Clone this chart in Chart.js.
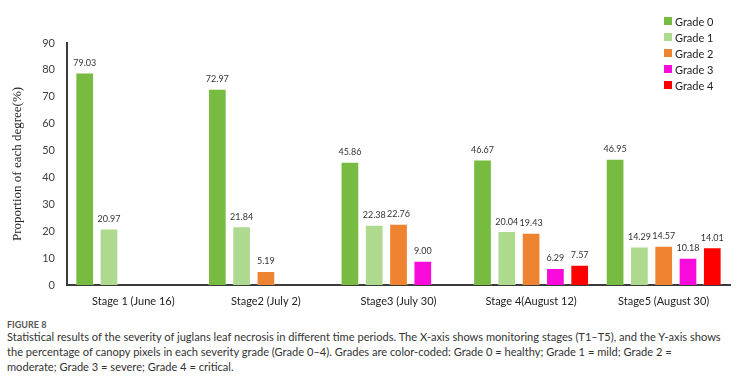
<!DOCTYPE html>
<html>
<head>
<meta charset="utf-8">
<script src="https://cdn.jsdelivr.net/npm/chart.js@4/dist/chart.umd.min.js"></script>
<style>
  html, body { margin: 0; padding: 0; background: #fff; }
  body { width: 744px; height: 381px; position: relative; overflow: hidden; font-family: Lato, "Open Sans", sans-serif; }
  #wrap { position: absolute; left: 0; top: 0; width: 744px; height: 312px; }
  #legend { position: absolute; left: 664px; top: 13px; }
  .li { height: 16px; display: flex; align-items: center; font-size: 11px; color: #222; }
  .sw { width: 8px; height: 8px; margin-right: 3px; }
  #fig { position: absolute; left: 7px; top: 319px; font-size: 9px; font-weight: bold; color: #555; }
  #cap { position: absolute; left: 7px; top: 329px; font-size: 11.1px; line-height: 15px; color: #333; white-space: nowrap; }
</style>
</head>
<body>
<div id="wrap"><canvas id="c"></canvas></div>
<div id="legend"></div>
<div id="fig">FIGURE 8</div>
<div id="cap">Statistical results of the severity of juglans leaf necrosis in different time periods. The X-axis shows monitoring stages (T1–T5), and the Y-axis shows<br>the percentage of canopy pixels in each severity grade (Grade 0–4). Grades are color-coded: Grade 0 = healthy; Grade 1 = mild; Grade 2 =<br>moderate; Grade 3 = severe; Grade 4 = critical.</div>
<script>
const categories = ["Stage 1 (June 16)", "Stage2 (July 2)", "Stage3 (July 30)", "Stage 4(August 12)", "Stage5 (August 30)"];
const seriesNames = ["Grade 0", "Grade 1", "Grade 2", "Grade 3", "Grade 4"];
const grade0 = [79.03, 72.97, 45.86, 46.67, 46.95];
const grade1 = [20.97, 21.84, 22.38, 20.04, 14.29];
const grade2 = [null, 5.19, 22.76, 19.43, 14.57];
const grade3 = [null, null, 9.00, 6.29, 10.18];
const grade4 = [null, null, null, 7.57, 14.01];
const colors = ["#77BB41", "#ADDA8F", "#EE8431", "#F90CDB", "#FF0000"];
const yTicks = [0, 10, 20, 30, 40, 50, 60, 70, 80, 90];

const seriesData = [grade0, grade1, grade2, grade3, grade4];

const legend = document.getElementById('legend');
seriesNames.forEach((n, i) => {
  const d = document.createElement('div');
  d.className = 'li';
  d.innerHTML = '<span class="sw" style="background:' + colors[i] + '"></span>' + n;
  legend.appendChild(d);
});

const valueLabels = {
  id: 'valueLabels',
  afterDatasetsDraw(chart) {
    const ctx = chart.ctx;
    ctx.save();
    ctx.font = '9px Lato';
    ctx.fillStyle = '#333';
    ctx.textAlign = 'center';
    ctx.textBaseline = 'middle';
    chart.data.datasets.forEach((ds, i) => {
      const meta = chart.getDatasetMeta(i);
      meta.data.forEach((bar, j) => {
        const v = ds.data[j];
        if (v === null || v === undefined) return;
        ctx.fillText(v.toFixed(2), bar.x, bar.y - 9.5);
      });
    });
    ctx.restore();
  }
};

new Chart(document.getElementById('c'), {
  type: 'bar',
  data: {
    labels: categories,
    datasets: seriesNames.map((n, i) => ({
      label: n,
      data: seriesData[i],
      backgroundColor: colors[i],
      borderColor: 'rgba(255,255,255,0.35)',
      borderWidth: 1,
      categoryPercentage: 0.916,
      barPercentage: 0.77
    }))
  },
  options: {
    responsive: true,
    maintainAspectRatio: false,
    animation: false,
    layout: { padding: { top: 43, right: 14, left: 0, bottom: 0 } },
    plugins: { legend: { display: false }, tooltip: { enabled: false } },
    scales: {
      x: {
        grid: { display: false },
        border: { display: true, color: '#3a3a3a', width: 2 },
        ticks: { font: { family: 'Lato', size: 11 }, color: '#222', padding: 2, maxRotation: 0 },
        afterFit(scale) { scale.height = 27; }
      },
      y: {
        min: 0, max: 90,
        afterBuildTicks(scale) { scale.ticks = yTicks.map(v => ({ value: v })); },
        grid: { display: false },
        border: { display: true, color: '#3a3a3a', width: 2 },
        ticks: { font: { family: 'Lato', size: 11 }, color: '#404040', padding: 4 },
        title: { display: true, text: 'Proportion of each degree(%)', font: { family: '"Liberation Serif", "Times New Roman", serif', size: 13 }, color: '#222', padding: { top: 10, bottom: 0 } },
        afterFit(scale) { scale.width = 67; }
      }
    }
  },
  plugins: [valueLabels]
});
</script>
</body>
</html>
